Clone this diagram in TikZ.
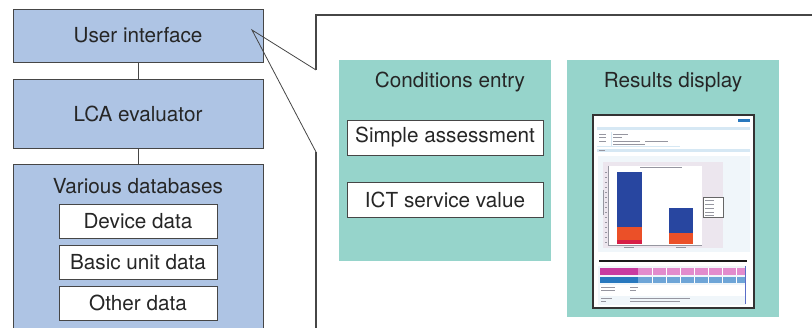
\documentclass[tikz,border=0pt]{standalone}
\usepackage{fontspec}
\setmainfont{TeX Gyre Heros}
\definecolor{boxblue}{RGB}{174,196,228}
\definecolor{panelteal}{RGB}{150,212,203}
\definecolor{edge}{RGB}{70,70,70}
\definecolor{shotband}{RGB}{214,232,244}
\definecolor{shotbg}{RGB}{240,246,250}
\definecolor{chartbg}{RGB}{236,230,238}
\definecolor{barblue}{RGB}{40,70,160}
\definecolor{barorange}{RGB}{235,80,40}
\definecolor{barred}{RGB}{215,30,70}
\definecolor{magA}{RGB}{200,60,160}
\definecolor{magB}{RGB}{226,140,205}
\definecolor{tblA}{RGB}{40,120,190}
\definecolor{tblB}{RGB}{110,165,215}
\definecolor{tblEdge}{RGB}{90,110,200}
\definecolor{tinytext}{RGB}{150,150,160}
\tikzset{
  bigtext/.style={font=\fontsize{20.7}{24}\selectfont, text=black!85},
  bluebox/.style={draw=edge, line width=0.9pt, fill=boxblue, bigtext, inner sep=0pt},
  whitebox/.style={draw=edge, line width=0.9pt, fill=white, bigtext, inner sep=0pt},
  tealpanel/.style={fill=panelteal, inner sep=0pt},
  link/.style={draw=edge, line width=0.8pt},
  tiny/.style={draw=tinytext, line width=0.5pt},
}
\begin{document}
\begin{tikzpicture}[x=1pt,y=-1pt]
\useasboundingbox (0,0) rectangle (812,328);
\clip (0,0) rectangle (812,328);
% left column
\node[bluebox, minimum width=250pt, minimum height=53pt] (ui) at (138,35.5) {User interface};
\node[bluebox, minimum width=250pt, minimum height=69pt] (lca) at (138,113.5) {LCA evaluator};
\node[bluebox, minimum width=250pt, minimum height=172pt] (db) at (138,250) {};
\node[bigtext, anchor=center] (dbt) at (138,186) {Various databases};
\node[whitebox, minimum width=158pt, minimum height=34pt] (dev) at (138,221) {Device data};
\node[whitebox, minimum width=158pt, minimum height=34pt] (bud) at (138,262) {Basic unit data};
\node[whitebox, minimum width=158pt, minimum height=34pt] (oth) at (138,303) {Other data};
\draw[link] (ui.south) -- (lca.north);
\draw[link] (lca.south) -- (db.north);
% callout frame
\coordinate (apex) at (252,30);
\coordinate (p1) at (316,70);
\coordinate (p2) at (316,152);
\coordinate (ftl) at (316,15);
\coordinate (ftr) at (815,15);
\coordinate (fbl) at (316,332);
\draw[edge, line width=0.8pt] (p1) -- (apex) -- (p2);
\draw[edge, line width=1.2pt] (p1) -- (ftl) -- (ftr);
\draw[edge, line width=1.2pt] (p2) -- (fbl);
% conditions panel
\node[tealpanel, minimum width=212pt, minimum height=201pt] (cond) at (445,160.5) {};
\node[bigtext] (condt) at (450,82) {Conditions entry};
\node[whitebox, minimum width=196pt, minimum height=35pt] (simp) at (445,137.5) {Simple assessment};
\node[whitebox, minimum width=196pt, minimum height=35pt] (ict) at (445,199.5) {ICT service value};
% results panel
\node[tealpanel, minimum width=212pt, minimum height=257pt] (res) at (673,188.5) {};
\node[bigtext] (rest) at (673,82) {Results display};
% screenshot
\draw[fill=white, draw=black!80, line width=1.2pt] (593,115) rectangle (754,308);
\fill[tblA] (738,119) rectangle (750,122);
\fill[shotband] (597,127) rectangle (750,130);
\draw[tiny] (599,134) -- (606,134) (613,134) -- (628,134);
\draw[tiny] (599,137.5) -- (606,137.5) (613,137.5) -- (622,137.5);
\draw[tiny] (599,141) -- (606,141) (613,141) -- (640,141) (645,141) -- (668,141);
\draw[tiny] (613,144) -- (645,144);
\draw[shotband, line width=0.6pt] (611,132) -- (611,146) (597,146.5) -- (680,146.5);
\fill[shotband] (597,149) rectangle (750,152);
\draw[tiny] (599,150.5) -- (605,150.5);
\fill[shotbg] (598,156) rectangle (750,252);
\fill[chartbg] (603,162) rectangle (723,248);
\fill[white] (608,166) rectangle (702,245);
\draw[tiny] (640,167) -- (682,167);
\foreach \yy in {172,177,...,242} \draw[tinytext, line width=0.3pt] (605,\yy) -- (607,\yy);
\draw[tinytext, line width=0.4pt] (608,166) -- (608,245) -- (702,245);
\draw[tiny] (603,190) -- (603,215);
% bars
\fill[barblue] (617,172) rectangle (642,227);
\fill[barorange] (617,227) rectangle (642,240);
\fill[barred] (617,240) rectangle (642,244);
\fill[barblue] (669,208) rectangle (693,233);
\fill[barorange] (669,233) rectangle (693,244);
\draw[tiny] (624,247) -- (634,247) (676,247) -- (686,247);
% legend
\draw[fill=white, draw=black!60, line width=0.4pt] (703,197) rectangle (723,217);
\foreach \yy in {200,204,208,212,215} \draw[tinytext, line width=0.4pt] (705,\yy) -- (714,\yy);
% black rule
\draw[black!90, line width=1.6pt] (599,261) -- (747,261);
% table
\fill[shotbg] (598,266) rectangle (746,305);
\fill[magB] (600,268) rectangle (745,275);
\fill[magA] (600,268) rectangle (638,275);
\fill[tblB] (600,277) rectangle (745,283);
\fill[tblA] (600,277) rectangle (638,283);
\foreach \xx in {652,666,680,694,708,722,736} {
  \draw[white, line width=0.3pt] (\xx,268) -- (\xx,275);
  \draw[white, line width=0.3pt] (\xx,277) -- (\xx,283);
}
\fill[white] (600,285) rectangle (745,296);
\draw[tiny] (601,287) -- (615,287) (630,287) -- (638,287);
\draw[tiny] (601,290.5) -- (615,290.5) (630,290.5) -- (636,290.5);
\draw[tiny] (601,298) -- (612,298) (630,298) -- (690,298);
\draw[tiny] (601,301) -- (606,301) (630,301) -- (680,301);
\draw[tblEdge, line width=0.7pt] (745,266) -- (745,304);
\end{tikzpicture}
\end{document}
